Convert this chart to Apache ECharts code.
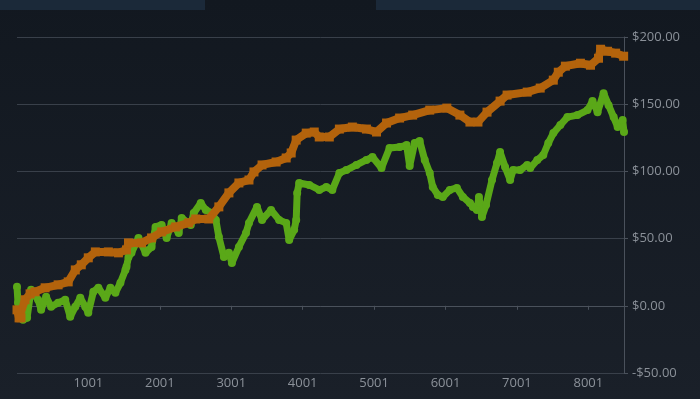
<!DOCTYPE html>
<html>
<head>
<meta charset="utf-8">
<script src="https://cdn.jsdelivr.net/npm/echarts@6/dist/echarts.min.js"></script>
<style>
  html, body { margin: 0; padding: 0; background: #151b24; }
  #chart { width: 700px; height: 399px; }
</style>
</head>
<body>
<div id="chart"></div>
<script>
// x 轴刻度
const xTicks = [1001, 2001, 3001, 4001, 5001, 6001, 7001, 8001];

// 橙色序列（方块）
const orangeIdx = [1, 30, 57, 113, 184, 254, 395, 577, 718, 817, 901, 999, 1098, 1280, 1421, 1534, 1562, 1744, 1885, 2026,
  2222, 2405, 2504, 2686, 2827, 2968, 3108, 3249, 3319, 3432, 3629, 3770, 3840, 3910, 4051, 4163, 4233, 4374, 4515, 4697,
  4894, 5035, 5175, 5358, 5541, 5780, 6019, 6202, 6343, 6455, 6582, 6765, 6863, 7145, 7327, 7510, 7580, 7679, 7890, 8031,
  8143, 8172, 8270, 8383, 8495];
const orangeVal = [-3, -9, -8.9, 4.5, 8.9, 10.4, 13.4, 15.6, 17.8, 26.7, 30.5, 35.7, 40.1, 40.1, 39.4, 41.6, 46.8, 46.8, 50.5, 55.0,
  58.7, 61.7, 64.6, 64.6, 73.6, 84.0, 91.4, 93.6, 99.6, 104.8, 107.0, 110.0, 113.7, 123.3, 128.5, 129.3, 125.6, 125.6, 131.5, 133.0,
  131.5, 129.3, 136.0, 139.7, 141.9, 145.6, 147.1, 141.9, 136.7, 136.7, 144.1, 152.3, 156.8, 159.0, 162.0, 167.9, 173.8, 178.3, 180.5, 179.0,
  184.2, 190.9, 189.4, 188.0, 185.7];

// 绿色序列（圆点）
const greenIdx = [1, 15, 85, 142, 198, 296, 339, 409, 479, 577, 676, 746, 817, 887, 957, 999, 1070, 1140, 1238, 1309,
  1379, 1449, 1519, 1534, 1562, 1604, 1702, 1801, 1885, 1941, 2026, 2096, 2166, 2265, 2307, 2434, 2476, 2574, 2645, 2729,
  2785, 2827, 2898, 2968, 3010, 3108, 3207, 3249, 3361, 3432, 3558, 3671, 3770, 3812, 3882, 3910, 3924, 3952, 4093, 4233,
  4332, 4416, 4515, 4613, 4754, 4894, 4978, 5105, 5217, 5358, 5456, 5499, 5569, 5639, 5710, 5780, 5822, 5893, 5963, 6061,
  6160, 6244, 6343, 6385, 6441, 6469, 6511, 6568, 6652, 6722, 6765, 6835, 6906, 6948, 7046, 7145, 7187, 7286, 7370, 7440,
  7511, 7609, 7708, 7848, 7989, 8059, 8130, 8214, 8284, 8355, 8411, 8481, 8500];
const greenVal = [14.1, 2.2, -10.4, -8.9, 11.9, 4.5, -3.0, 6.7, -0.7, 2.2, 4.5, -8.2, -0.7, 5.9, -0.7, -5.2, 10.4, 13.4, 5.9, 13.4,
  9.7, 17.1, 26.7, 29.0, 36.4, 39.4, 50.5, 39.4, 43.8, 58.7, 60.2, 50.5, 61.7, 54.2, 65.4, 60.2, 69.1, 76.5, 71.3, 69.1,
  63.9, 51.3, 36.4, 39.4, 31.9, 43.8, 54.2, 61.7, 73.6, 63.9, 71.3, 63.9, 61.7, 49.0, 56.5, 63.9, 84.0, 91.4, 89.9, 86.2,
  88.4, 86.2, 98.8, 101.0, 104.8, 108.5, 110.7, 102.5, 117.4, 118.1, 119.6, 104.0, 121.1, 122.6, 108.5, 98.8, 88.4, 82.5, 81.0, 86.2,
  87.7, 81.0, 76.5, 73.6, 71.3, 81.0, 66.1, 75.0, 93.6, 106.2, 114.4, 103.3, 93.6, 101.0, 101.0, 104.8, 102.5, 108.5, 112.2, 121.1,
  128.5, 134.5, 140.4, 141.9, 145.6, 152.3, 144.1, 158.2, 149.3, 140.4, 133.0, 138.2, 129.3];

const COLORS = {
  orange: '#b3630c',
  green: '#5aa818',
  label: '#8b9199',
  axis: '#4a515b',
  split: '#39404a'
};

function pairs(xs, ys) {
  return xs.map((x, i) => [x, ys[i]]);
}

function money(v) {
  return (v < 0 ? '-$' : '$') + Math.abs(v).toFixed(2);
}

const chart = echarts.init(document.getElementById('chart'));

chart.setOption({
  animation: false,
  backgroundColor: {
    type: 'linear', x: 0, y: 0, x2: 0, y2: 1,
    colorStops: [{ offset: 0, color: '#121820' }, { offset: 1, color: '#1a2029' }]
  },
  graphic: [
    { type: 'rect', left: 0, top: 0, shape: { width: 205, height: 10 }, style: { fill: '#1b2939' } },
    { type: 'rect', left: 376, top: 0, shape: { width: 324, height: 10 }, style: { fill: '#1b2939' } }
  ],
  grid: { left: 17, right: 76, top: 37, bottom: 26 },
  xAxis: {
    type: 'value',
    min: 1,
    max: 8500,
    splitLine: { show: false },
    axisLine: { lineStyle: { color: COLORS.axis } },
    axisTick: { customValues: xTicks, length: 4, lineStyle: { color: COLORS.axis } },
    axisLabel: {
      customValues: xTicks,
      formatter: v => String(v),
      color: COLORS.label,
      fontFamily: 'Open Sans',
      fontSize: 13,
      margin: 4
    }
  },
  yAxis: {
    type: 'value',
    position: 'right',
    min: -50,
    max: 200,
    interval: 50,
    axisLine: { show: true, lineStyle: { color: COLORS.axis } },
    axisTick: { show: true, length: 4, lineStyle: { color: COLORS.axis } },
    splitLine: { lineStyle: { color: COLORS.split } },
    axisLabel: {
      formatter: money,
      color: COLORS.label,
      fontFamily: 'Open Sans',
      fontSize: 13,
      margin: 8
    }
  },
  series: [
    {
      type: 'line',
      data: pairs(orangeIdx, orangeVal),
      symbol: 'rect',
      symbolSize: 9,
      showAllSymbol: true,
      itemStyle: { color: COLORS.orange },
      lineStyle: { color: COLORS.orange, width: 8 },
      z: 3
    },
    {
      type: 'line',
      data: pairs(greenIdx, greenVal),
      symbol: 'circle',
      symbolSize: 8,
      showAllSymbol: true,
      itemStyle: { color: COLORS.green },
      lineStyle: { color: COLORS.green, width: 7 },
      z: 2
    }
  ]
});
</script>
</body>
</html>
